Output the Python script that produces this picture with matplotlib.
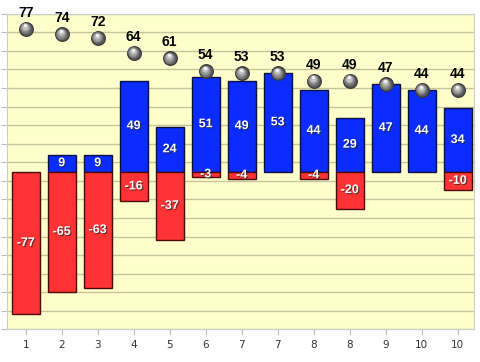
import matplotlib.pyplot as plt
import matplotlib.patheffects as pe
from matplotlib.transforms import offset_copy
import numpy as np

labels = ['1', '2', '3', '4', '5', '6', '7', '7', '8', '8', '9', '10', '10']
pos_vals = [0, 9, 9, 49, 24, 51, 49, 53, 44, 29, 47, 44, 34]
neg_vals = [-77, -65, -63, -16, -37, -3, -4, 0, -4, -20, 0, 0, -10]
totals = [77, 74, 72, 64, 61, 54, 53, 53, 49, 49, 47, 44, 44]

x = np.arange(len(labels))

fig = plt.figure(figsize=(4.8, 3.62), dpi=100)
ax = fig.add_axes([0.0152, 0.0903, 0.9729, 0.8716])
ax.set_facecolor('#ffffcc')

ax.set_ylim(-85, 85)
ax.set_xlim(-0.51, 12.46)
ax.set_yticks(np.arange(-85, 86, 10))
ax.set_yticklabels([])
ax.grid(axis='y', color='#c6c39a', linewidth=1.0)
ax.set_axisbelow(True)
ax.set_xticks(x)
ax.set_xticklabels(labels, fontsize=7.5, color='#333333')
ax.tick_params(axis='both', length=4, color='#bbbbbb')
for s in ax.spines.values():
    s.set_color('#cccccc')

w = 0.77
shadow = [pe.SimplePatchShadow(offset=(0.8, -0.8), shadow_rgbFace='#222222', alpha=0.7),
          pe.Normal()]

for xi, v in zip(x, pos_vals):
    if v == 0:
        continue
    ax.bar(xi, v, width=w, color='#0a2cff', edgecolor='#0b1040', linewidth=1)
    ax.text(xi, v / 2, str(v), ha='center', va='center', color='white',
            fontsize=9, fontweight='bold', family='Liberation Sans', path_effects=shadow)

for xi, v in zip(x, neg_vals):
    if v == 0:
        continue
    ax.bar(xi, v, width=w, color='#ff3333', edgecolor='#4a0a0a', linewidth=1)
    ax.text(xi, v / 2, str(v), ha='center', va='center', color='white',
            fontsize=9, fontweight='bold', family='Liberation Sans', path_effects=shadow)

# glossy grey balls
ax.scatter(x, totals, s=95, color='#3a3a3a', zorder=5)
shades = [(80, '#5a5a5a'), (60, '#7a7a7a'), (38, '#9c9c9c'), (18, '#c4c4c4')]
for i, (sz, c) in enumerate(shades):
    tr = offset_copy(ax.transData, fig=fig, x=-0.25 * i, y=0.45 * i, units='points')
    ax.scatter(x, totals, s=sz, color=c, zorder=6 + i, transform=tr, linewidths=0)
tr = offset_copy(ax.transData, fig=fig, x=-0.8, y=2.3, units='points')
ax.scatter(x, totals, s=5, color='#f4f4f4', zorder=11, transform=tr, linewidths=0)

for xi, t in zip(x, totals):
    ax.annotate(str(t), (xi, t), xytext=(0, 6.5), textcoords='offset points',
                ha='center', va='bottom', fontsize=10, fontweight='bold',
                family='Liberation Sans', color='black')

fig.savefig('out.png', dpi=100)
